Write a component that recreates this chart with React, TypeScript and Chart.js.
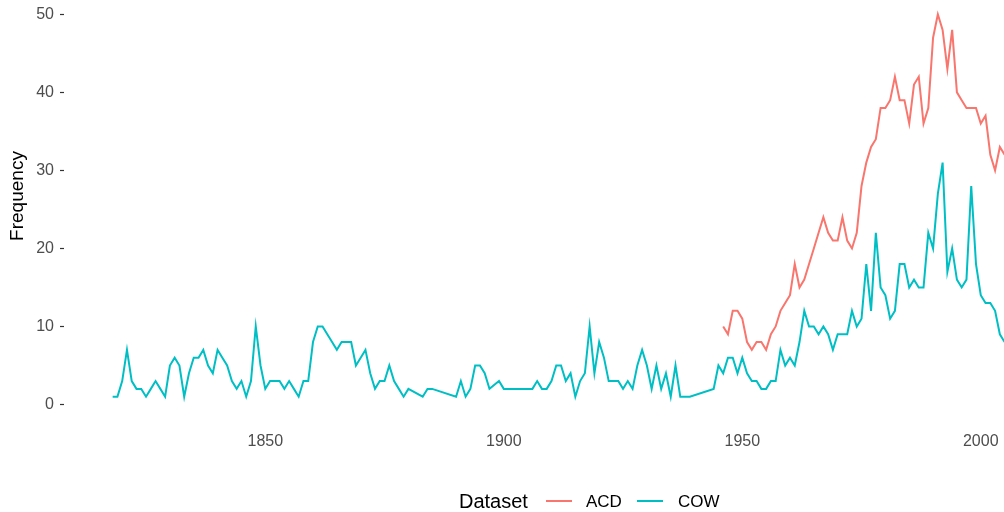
import React, { useEffect, useRef } from "react";
import { Chart, registerables } from "chart.js";

Chart.register(...registerables);

// ---- data ----
const cowYears = [
  1818, 1819, 1820, 1821, 1822, 1823, 1824, 1825, 1826, 1827, 1828, 1829,
  1830, 1831, 1832, 1833, 1834, 1835, 1836, 1837, 1838, 1839, 1840, 1841,
  1842, 1843, 1844, 1845, 1846, 1847, 1848, 1849, 1850, 1851, 1852, 1853,
  1854, 1855, 1856, 1857, 1858, 1859, 1860, 1861, 1862, 1863, 1864, 1865,
  1866, 1867, 1868, 1869, 1870, 1871, 1872, 1873, 1874, 1875, 1876, 1877,
  1878, 1879, 1880, 1883, 1884, 1885, 1890, 1891, 1892, 1893, 1894, 1895,
  1896, 1897, 1899, 1900, 1901, 1902, 1903, 1904, 1905, 1906, 1907, 1908,
  1909, 1910, 1911, 1912, 1913, 1914, 1915, 1916, 1917, 1918, 1919, 1920,
  1921, 1922, 1923, 1924, 1925, 1926, 1927, 1928, 1929, 1930, 1931, 1932,
  1933, 1934, 1935, 1936, 1937, 1938, 1939, 1944, 1945, 1946, 1947, 1948,
  1949, 1950, 1951, 1952, 1953, 1954, 1955, 1956, 1957, 1958, 1959, 1960,
  1961, 1962, 1963, 1964, 1965, 1966, 1967, 1968, 1969, 1970, 1971, 1972,
  1973, 1974, 1975, 1976, 1977, 1978, 1979, 1980, 1981, 1982, 1983, 1984,
  1985, 1986, 1987, 1988, 1989, 1990, 1991, 1992, 1993, 1994, 1995, 1996,
  1997, 1998, 1999, 2000, 2001, 2002, 2003, 2004, 2005,
];
const cowCounts = [
  1, 1, 3, 7, 3, 2, 2, 1, 2, 3, 2, 1,
  5, 6, 5, 1, 4, 6, 6, 7, 5, 4, 7, 6,
  5, 3, 2, 3, 1, 3, 10, 5, 2, 3, 3, 3,
  2, 3, 2, 1, 3, 3, 8, 10, 10, 9, 8, 7,
  8, 8, 8, 5, 6, 7, 4, 2, 3, 3, 5, 3,
  2, 1, 2, 1, 2, 2, 1, 3, 1, 2, 5, 5,
  4, 2, 3, 2, 2, 2, 2, 2, 2, 2, 3, 2,
  2, 3, 5, 5, 3, 4, 1, 3, 4, 10, 4, 8,
  6, 3, 3, 3, 2, 3, 2, 5, 7, 5, 2, 5,
  2, 4, 1, 5, 1, 1, 1, 2, 5, 4, 6, 6,
  4, 6, 4, 3, 3, 2, 2, 3, 3, 7, 5, 6,
  5, 8, 12, 10, 10, 9, 10, 9, 7, 9, 9, 9,
  12, 10, 11, 18, 12, 22, 15, 14, 11, 12, 18, 18,
  15, 16, 15, 15, 22, 20, 27, 31, 17, 20, 16, 15,
  16, 28, 18, 14, 13, 13, 12, 9, 8,
];

const acdYears = [
  1946, 1947, 1948, 1949, 1950, 1951, 1952, 1953, 1954, 1955, 1956, 1957,
  1958, 1959, 1960, 1961, 1962, 1963, 1964, 1965, 1966, 1967, 1968, 1969,
  1970, 1971, 1972, 1973, 1974, 1975, 1976, 1977, 1978, 1979, 1980, 1981,
  1982, 1983, 1984, 1985, 1986, 1987, 1988, 1989, 1990, 1991, 1992, 1993,
  1994, 1995, 1996, 1997, 1998, 1999, 2000, 2001, 2002, 2003, 2004, 2005,
];
const acdCounts = [
  10, 9, 12, 12, 11, 8, 7, 8, 8, 7, 9, 10,
  12, 13, 14, 18, 15, 16, 18, 20, 22, 24, 22, 21,
  21, 24, 21, 20, 22, 28, 31, 33, 34, 38, 38, 39,
  42, 39, 39, 36, 41, 42, 36, 38, 47, 50, 48, 43,
  48, 40, 39, 38, 38, 38, 36, 37, 32, 30, 33, 32,
];

const seriesNames = ["ACD", "COW"];
const seriesColors = ["#F8766D", "#00BFC4"];
const yTickValues = [0, 10, 20, 30, 40, 50];
const xTickValues = [1850, 1900, 1950, 2000];
const yTitle = "Frequency";
const legendTitle = "Dataset";

const FONT = "'Liberation Sans', Arial, Helvetica, sans-serif";

export default function App() {
  const ref = useRef<HTMLCanvasElement | null>(null);

  useEffect(() => {
    const canvas = ref.current;
    if (!canvas) return;

    const toPoints = (xs: number[], ys: number[]) =>
      xs.map((x, i) => ({ x, y: ys[i] }));

    const overlay = {
      id: "overlay",
      afterDraw(chart: any) {
        const c = chart.ctx as CanvasRenderingContext2D;
        // y-axis title
        c.save();
        c.fillStyle = "#000000";
        c.font = `19px ${FONT}`;
        c.translate(17.5, 196);
        c.rotate(-Math.PI / 2);
        c.textAlign = "center";
        c.textBaseline = "middle";
        c.fillText(yTitle, 0, 0);
        c.restore();

        // legend
        c.save();
        const ly = 502;
        c.textBaseline = "middle";
        c.textAlign = "left";
        c.fillStyle = "#000000";
        c.font = `20px ${FONT}`;
        c.fillText(legendTitle, 459, ly);
        const keyX = [546, 637];
        const textX = [586, 678];
        c.font = `17px ${FONT}`;
        seriesNames.forEach((name, i) => {
          c.strokeStyle = seriesColors[i];
          c.lineWidth = 2;
          c.beginPath();
          c.moveTo(keyX[i], ly - 1);
          c.lineTo(keyX[i] + 26, ly - 1);
          c.stroke();
          c.fillStyle = "#000000";
          c.fillText(name, textX[i], ly);
        });
        c.restore();
      },
    };

    const chart = new Chart(canvas, {
      type: "line",
      data: {
        datasets: [
          {
            label: seriesNames[0],
            data: toPoints(acdYears, acdCounts),
            borderColor: seriesColors[0],
            backgroundColor: seriesColors[0],
            borderWidth: 2,
            pointRadius: 0,
            tension: 0,
            fill: false,
          },
          {
            label: seriesNames[1],
            data: toPoints(cowYears, cowCounts),
            borderColor: seriesColors[1],
            backgroundColor: seriesColors[1],
            borderWidth: 2,
            pointRadius: 0,
            tension: 0,
            fill: false,
          },
        ],
      },
      options: {
        responsive: false,
        animation: false,
        layout: { padding: { top: 2, right: 0, bottom: 60, left: 0 } },
        plugins: {
          legend: { display: false },
          tooltip: { enabled: false },
        },
        scales: {
          x: {
            type: "linear",
            min: 1807.8,
            max: 2004.87,
            afterBuildTicks: (s: any) => {
              s.ticks = xTickValues.map((v) => ({ value: v }));
            },
            afterFit: (s: any) => {
              s.height = 28;
              s.paddingLeft = 0;
              s.paddingRight = 0;
            },
            grid: { display: false },
            border: { display: false },
            ticks: {
              padding: 0,
              color: "#4D4D4D",
              font: { family: FONT, size: 16 },
              maxRotation: 0,
              callback: (v: any) => String(v),
            },
          },
          y: {
            type: "linear",
            min: -2.5,
            max: 51.58,
            afterBuildTicks: (s: any) => {
              s.ticks = yTickValues.map((v) => ({ value: v }));
            },
            afterFit: (s: any) => {
              s.width = 64;
              s.paddingTop = 0;
              s.paddingBottom = 0;
            },
            grid: {
              drawOnChartArea: false,
              drawTicks: true,
              tickLength: 4,
              tickColor: "#333333",
              tickWidth: 1.2,
            },
            border: { display: false },
            ticks: {
              padding: 6,
              color: "#4D4D4D",
              font: { family: FONT, size: 16 },
              callback: (v: any) => String(v),
            },
          },
        },
      },
      plugins: [overlay],
    });

    return () => chart.destroy();
  }, []);

  return (
    <div
      style={{
        position: "fixed",
        left: 0,
        top: 0,
        width: 1004,
        height: 512,
        background: "#ffffff",
      }}
    >
      <canvas ref={ref} width={1004} height={512} />
    </div>
  );
}
